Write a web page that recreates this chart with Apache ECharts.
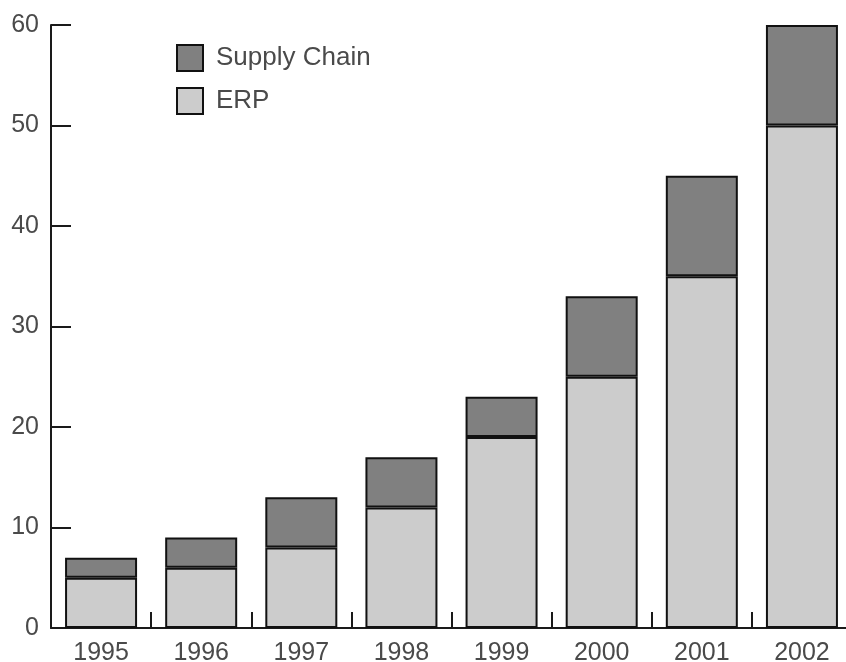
<!DOCTYPE html>
<html>
<head>
<meta charset="utf-8">
<script src="https://cdn.jsdelivr.net/npm/echarts@6/dist/echarts.min.js"></script>
<style>
html,body{margin:0;padding:0;background:#fff;overflow:hidden;width:846px;height:662px;}
#chart{width:870px;height:662px;}
</style>
</head>
<body>
<div id="chart"></div>
<script>
const categories = ['1995','1996','1997','1998','1999','2000','2001','2002'];
const erp = [5, 6, 8, 12, 19, 25, 35, 50];
const supplyChain = [2, 3, 5, 5, 4, 8, 10, 10];
const yTicks = [0, 10, 20, 30, 40, 50, 60];

const chart = echarts.init(document.getElementById('chart'));
const textColor = '#4a4a4a';
const axisColor = '#1a1a1a';
chart.setOption({
  animation: false,
  backgroundColor: '#fff',
  grid: { left: 51, top: 25, width: 801, height: 603, containLabel: false, outerBoundsMode: 'none' },
  legend: {
    orient: 'vertical',
    left: 171,
    top: 39,
    icon: 'rect',
    itemWidth: 26,
    itemHeight: 26,
    itemGap: 15,
    data: ['Supply Chain', 'ERP'],
    textStyle: { fontFamily: '"Liberation Sans", Arial, sans-serif', fontSize: 26, color: textColor, padding: [0, 0, 0, 8] },
    itemStyle: { borderColor: '#111', borderWidth: 2 }
  },
  xAxis: {
    type: 'category',
    data: categories,
    boundaryGap: true,
    axisLine: { lineStyle: { color: axisColor, width: 2 } },
    axisTick: { show: true, inside: true, length: 16, alignWithLabel: false, lineStyle: { color: axisColor, width: 2 } },
    axisLabel: { color: textColor, fontFamily: '"Liberation Sans", Arial, sans-serif', fontSize: 25, margin: 13 },
    splitLine: { show: false }
  },
  yAxis: {
    type: 'value',
    min: yTicks[0],
    max: yTicks[yTicks.length - 1],
    interval: 10,
    axisLine: { show: true, lineStyle: { color: axisColor, width: 2 } },
    axisTick: { show: true, inside: true, length: 20, lineStyle: { color: axisColor, width: 2 } },
    axisLabel: { color: textColor, fontFamily: '"Liberation Sans", Arial, sans-serif', fontSize: 25, margin: 12 },
    splitLine: { show: false }
  },
  series: [
    {
      name: 'ERP',
      type: 'bar',
      stack: 'total',
      barWidth: 72,
      data: erp,
      itemStyle: { color: '#cccccc', borderColor: '#111', borderWidth: 2 }
    },
    {
      name: 'Supply Chain',
      type: 'bar',
      stack: 'total',
      barWidth: 72,
      data: supplyChain,
      itemStyle: { color: '#808080', borderColor: '#111', borderWidth: 2 }
    }
  ]
});
</script>
</body>
</html>
